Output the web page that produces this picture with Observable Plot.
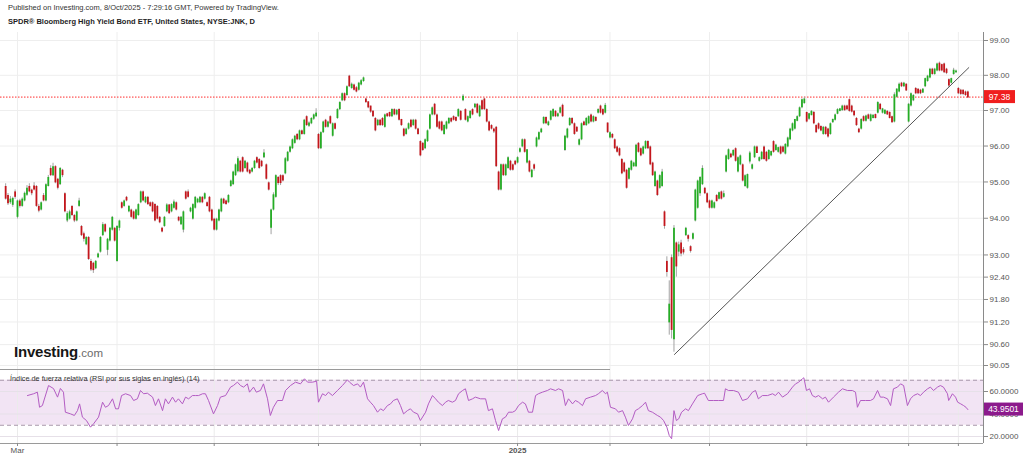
<!DOCTYPE html>
<html><head><meta charset="utf-8">
<script src="https://cdn.jsdelivr.net/npm/d3@7"></script>
<script src="https://cdn.jsdelivr.net/npm/@observablehq/plot@0.6"></script>
<style>
html,body{margin:0;padding:0;background:#fff;overflow:hidden;}
body{font-family:"Liberation Sans",Arial,Helvetica,sans-serif;}
#wrap{position:relative;width:1024px;height:459px;overflow:hidden;}
#pub{position:absolute;left:8px;top:3px;font-size:7.5px;color:#333;white-space:nowrap;}
#ttl{position:absolute;left:8px;top:17px;font-size:7.5px;font-weight:bold;color:#1e1e1e;white-space:nowrap;}
#price{position:absolute;left:0;top:32px;}
#rsi{position:absolute;left:0;top:372px;}
#logo{position:absolute;left:14px;top:343px;font-size:15px;font-weight:bold;color:#161616;letter-spacing:-0.2px;white-space:nowrap;}
#logo span{font-size:11.5px;font-weight:normal;color:#6a6a6a;letter-spacing:0;}
#sep{position:absolute;left:0;top:369px;width:610px;height:1px;background:#9a9a9a;}
#rsiLbl{position:absolute;left:10px;top:374px;font-size:7.3px;color:#333;white-space:nowrap;}
</style></head>
<body><div id="wrap">
<div id="pub">Published on Investing.com, 8/Oct/2025 - 7:29:16 GMT, Powered by TradingView.</div>
<div id="ttl">SPDR® Bloomberg High Yield Bond ETF, United States, NYSE:JNK, D</div>
<div id="price"></div>
<div id="rsi"></div>
<div id="sep"></div>
<div id="logo">Investing<span>.com</span></div>
<div id="rsiLbl">Índice de fuerza relativa (RSI por sus siglas en inglés) (14)</div>
</div>
<script>
const open = [
94.85,94.6,94.45,94.38,94.7,94.05,94.45,94.35,94.5,94.66,
94.85,94.75,94.86,94.85,94.3,94.25,94.6,94.5,94.9,95.35,
95.2,95.4,95.05,94.95,95.3,94.65,93.95,94.0,94.3,94.05,
93.95,94.35,93.75,93.55,93.3,93.45,92.8,92.75,92.65,92.95,
93.1,93.55,93.8,93.15,93.4,93.7,93.7,92.85,93.75,94.4,
94.35,94.55,94.2,94.2,94.15,94.0,94.1,94.45,94.7,94.45,
94.55,94.4,94.4,94.35,94.3,94.0,93.7,93.8,94.2,94.34,
94.2,94.3,94.4,94.0,93.85,93.7,94.7,94.7,94.2,94.0,
94.3,94.45,94.45,94.55,94.55,94.4,94.55,94.2,93.95,93.7,
93.95,94.2,94.5,94.45,94.45,94.9,94.95,95.2,95.31,95.55,
95.65,95.4,95.5,95.3,95.3,95.4,95.65,95.6,95.55,95.7,
95.45,94.95,93.75,94.25,94.6,95.1,95.15,95.15,95.25,95.6,
95.85,95.95,96.1,96.3,96.2,96.4,96.35,96.8,96.58,96.65,
96.78,96.85,96.3,95.95,96.4,96.7,96.55,96.8,96.3,96.6,
96.8,97.05,97.3,97.45,97.45,97.95,97.65,97.7,97.62,97.6,
97.75,97.85,97.3,97.22,97.1,96.95,96.75,96.6,96.7,96.75,
96.55,96.88,96.92,96.85,97.0,96.9,97.0,96.72,96.45,96.35,
96.5,96.7,96.6,96.7,96.45,96.1,96.05,95.95,96.15,96.5,
96.9,97.15,96.85,96.65,96.65,96.35,96.5,96.65,96.75,96.8,
96.78,96.85,96.95,97.3,97.0,96.7,96.8,97.0,97.1,97.15,
96.85,97.25,97.3,97.0,96.65,96.55,96.45,96.5,95.25,94.8,
95.45,95.2,95.4,95.55,95.45,95.55,95.55,95.85,96.0,96.15,
95.55,95.55,95.15,95.45,96.0,96.2,96.4,96.65,96.78,96.6,
96.75,96.85,96.95,96.85,96.95,97.12,95.9,96.25,96.6,96.75,
96.6,96.5,96.05,96.2,96.65,96.6,96.65,96.85,96.7,96.78,
96.95,97.1,97.0,96.95,96.62,96.25,96.3,96.15,95.95,95.9,
95.6,95.5,95.3,95.1,95.35,95.45,95.45,96.05,95.9,95.8,
95.95,96.1,95.95,95.5,94.9,95.0,94.85,94.9,94.15,92.8,
91.2,92.9,90.75,93.3,93.1,93.3,93.12,93.55,93.5,93.2,
93.45,93.95,94.3,94.7,94.95,94.8,94.65,94.45,94.3,94.3,
94.6,94.55,94.7,94.6,95.3,95.65,95.75,95.75,95.9,95.3,
95.5,95.45,94.9,94.85,95.58,95.38,95.7,95.95,95.6,95.65,
95.95,95.8,95.65,95.75,96.1,95.9,95.85,95.95,95.95,95.8,
96.0,96.2,96.45,96.5,96.72,96.85,97.1,97.22,96.92,96.78,
96.88,96.92,96.55,96.6,96.52,96.35,96.5,96.45,96.35,96.68,
96.75,96.92,97.0,97.02,97.1,97.1,97.28,97.1,96.95,96.75,
96.45,96.5,96.8,96.72,96.85,96.72,96.8,96.86,96.95,97.15,
96.95,96.92,96.95,96.92,96.8,96.7,97.4,97.55,97.75,97.7,
97.72,96.7,97.15,97.3,97.6,97.58,97.55,97.52,97.7,97.85,
97.95,98.15,98.05,98.15,98.32,98.28,98.3,98.15,97.85,97.8,
98.05,98.1,97.6,97.55,97.55,97.5,97.5];
const high = [
94.95,94.68,94.6,94.58,94.78,94.5,94.52,94.56,94.72,94.9,
94.95,94.8,94.98,94.9,94.38,94.45,94.68,94.95,95.18,95.45,
95.52,95.45,95.1,95.4,95.35,94.7,94.18,94.22,94.35,94.1,
94.2,94.55,93.8,93.62,93.5,93.5,92.88,92.8,92.85,93.05,
93.5,93.88,93.85,93.45,93.75,94.05,93.75,93.8,93.95,94.45,
94.5,94.6,94.35,94.25,94.2,94.25,94.4,94.75,94.75,94.6,
94.6,94.45,94.45,94.4,94.35,94.05,93.75,94.05,94.4,94.38,
94.4,94.5,94.45,94.05,94.05,94.2,94.75,94.78,94.3,94.4,
94.6,94.55,94.6,94.6,94.7,94.45,94.6,94.25,94.0,94.0,
94.25,94.55,94.55,94.5,94.65,95.05,95.3,95.5,95.7,95.6,
95.7,95.6,95.55,95.35,95.4,95.6,95.7,95.65,95.6,95.9,
95.5,95.0,94.25,94.7,95.2,95.15,95.2,95.2,95.68,95.85,
96.0,96.2,96.3,96.35,96.45,96.45,96.75,96.85,96.68,96.8,
96.9,97.05,96.35,96.4,96.7,96.75,96.7,96.85,96.65,96.65,
97.05,97.25,97.5,97.5,97.7,98.0,97.78,97.75,97.68,97.8,
97.88,97.95,97.35,97.25,97.12,97.0,96.8,96.75,96.75,96.8,
96.9,96.92,96.95,97.05,97.05,97.03,97.05,96.75,96.5,96.5,
96.65,96.75,96.75,96.75,96.5,96.15,96.1,96.2,96.45,96.9,
97.1,97.2,96.9,96.7,96.7,96.6,96.7,96.8,96.8,96.85,
96.82,97.05,97.0,97.45,97.05,96.85,97.0,97.05,97.2,97.2,
97.15,97.3,97.35,97.05,96.7,96.6,96.5,96.55,95.3,95.5,
95.5,95.5,95.7,95.6,95.5,95.6,95.7,95.95,96.2,96.2,
95.9,95.6,95.35,95.5,96.25,96.4,96.5,96.82,96.82,96.7,
97.0,97.05,97.0,96.93,97.1,97.18,96.3,96.5,96.8,96.8,
96.65,96.55,96.2,96.65,96.7,96.8,96.85,96.9,96.85,96.82,
97.05,97.15,97.05,97.2,96.65,96.4,96.35,96.2,96.0,95.95,
95.65,95.55,95.35,95.4,95.6,95.55,96.05,96.1,95.95,96.0,
96.15,96.15,96.0,95.55,95.3,95.05,95.2,95.35,94.2,92.95,
92.3,93.0,93.8,93.35,93.35,93.4,93.2,93.75,93.55,93.25,
93.6,94.8,95.05,95.15,95.45,94.85,94.7,94.5,94.5,94.45,
94.65,94.72,94.75,94.75,95.75,95.92,95.8,95.9,95.95,95.7,
95.75,95.5,95.2,95.22,95.85,95.5,96.0,96.0,95.7,95.85,
96.0,95.85,95.9,95.86,96.15,96.05,95.97,96.0,96.0,96.07,
96.25,96.5,96.65,96.75,96.85,97.1,97.33,97.38,96.95,96.92,
97.0,96.97,96.6,96.65,96.57,96.55,96.55,96.5,96.65,96.76,
96.9,97.05,97.06,97.15,97.15,97.15,97.33,97.15,97.0,96.8,
96.5,96.77,96.85,96.87,96.9,96.9,96.88,96.9,97.25,97.2,
97.06,97.02,97.0,96.96,96.84,97.5,97.62,97.78,97.8,97.8,
97.76,97.2,97.5,97.45,97.65,97.62,97.6,97.62,97.92,98.0,
98.2,98.2,98.2,98.35,98.38,98.32,98.35,98.2,97.9,97.92,
98.2,98.15,97.65,97.6,97.58,97.55,97.55];
const low = [
94.5,94.35,94.38,94.3,94.52,93.98,94.28,94.3,94.45,94.6,
94.7,94.62,94.75,94.3,94.15,94.2,94.45,94.45,94.86,95.15,
95.15,94.95,94.78,94.9,95.12,94.15,93.88,93.95,94.05,93.88,
93.9,94.3,93.5,93.35,93.25,92.85,92.55,92.5,92.6,92.9,
93.05,93.5,93.6,92.98,93.35,93.65,93.35,92.8,93.65,94.25,
94.3,94.45,94.15,94.0,93.95,93.95,94.05,94.4,94.45,94.4,
94.35,94.3,94.15,93.9,93.95,93.85,93.6,93.75,94.15,94.1,
94.15,94.25,94.2,93.9,93.8,93.6,94.5,94.55,94.15,93.95,
94.25,94.4,94.4,94.4,94.5,94.3,94.15,93.9,93.65,93.65,
93.9,94.15,94.38,94.35,94.4,94.85,94.9,95.15,95.25,95.25,
95.25,95.35,95.25,95.2,95.25,95.35,95.5,95.35,95.4,95.65,
95.05,94.75,93.55,94.2,94.55,94.9,94.9,95.0,95.2,95.55,
95.8,95.9,96.05,96.15,96.15,96.3,96.3,96.55,96.52,96.6,
96.72,96.8,95.9,95.9,96.35,96.5,96.5,96.6,96.25,96.45,
96.75,97.0,97.25,97.25,97.4,97.65,97.6,97.55,97.5,97.55,
97.7,97.8,97.2,97.05,96.92,96.8,96.4,96.55,96.55,96.55,
96.5,96.8,96.8,96.8,96.85,96.85,96.7,96.55,96.25,96.3,
96.45,96.5,96.55,96.45,96.3,95.7,95.85,95.9,96.1,96.45,
96.85,96.85,96.5,96.45,96.4,96.3,96.45,96.6,96.65,96.7,
96.68,96.8,96.7,97.25,96.7,96.65,96.75,96.85,97.05,96.9,
96.8,97.0,97.0,96.65,96.4,96.45,96.35,95.4,94.75,94.75,
95.15,95.15,95.35,95.3,95.3,95.45,95.5,95.8,95.95,95.8,
95.5,95.25,95.1,95.3,95.95,96.15,96.35,96.6,96.6,96.55,
96.7,96.8,96.8,96.8,96.9,96.8,95.85,96.2,96.55,96.6,
96.3,96.38,96.0,96.15,96.55,96.55,96.6,96.65,96.65,96.68,
96.9,96.9,96.85,96.9,96.35,96.2,96.2,95.9,95.8,95.7,
95.2,95.25,94.8,95.05,95.3,95.4,95.4,95.8,95.7,95.75,
95.9,95.9,95.45,95.15,94.85,94.6,94.8,94.85,93.7,92.4,
90.85,90.75,90.4,92.4,92.95,92.95,93.0,93.5,93.35,93.05,
93.4,93.9,94.25,94.6,94.9,94.65,94.4,94.25,94.25,94.25,
94.45,94.5,94.5,94.55,95.25,95.6,95.65,95.7,95.55,95.25,
95.45,95.0,94.85,94.8,95.5,95.33,95.65,95.8,95.55,95.6,
95.6,95.55,95.6,95.7,95.8,95.85,95.8,95.75,95.8,95.75,
95.95,96.15,96.4,96.45,96.68,96.8,97.05,97.18,96.65,96.72,
96.85,96.6,96.35,96.45,96.4,96.3,96.3,96.22,96.3,96.64,
96.7,96.88,96.96,96.98,96.98,97.0,96.95,96.93,96.82,96.55,
96.35,96.45,96.67,96.67,96.74,96.67,96.76,96.76,96.9,97.0,
96.9,96.88,96.86,96.76,96.64,96.65,97.35,97.5,97.65,97.65,
97.54,96.65,97.1,97.25,97.45,97.45,97.45,97.48,97.65,97.8,
97.9,98.0,98.0,98.1,98.1,98.1,98.05,98.02,97.65,97.75,
98.0,98.05,97.45,97.42,97.42,97.4,97.35];
const close = [
94.55,94.42,94.5,94.52,94.6,94.45,94.35,94.5,94.66,94.8,
94.75,94.7,94.8,94.35,94.22,94.4,94.5,94.9,95.1,95.2,
95.4,95.0,94.85,95.35,95.2,94.2,94.1,94.15,94.1,93.95,
94.15,94.45,93.55,93.45,93.45,92.9,92.62,92.6,92.8,93.0,
93.45,93.8,93.65,93.4,93.7,94.0,93.4,93.75,93.9,94.3,
94.45,94.5,94.3,94.05,94.0,94.2,94.35,94.7,94.5,94.55,
94.4,94.35,94.2,93.95,94.0,93.9,93.65,94.0,94.34,94.15,
94.35,94.42,94.25,93.95,94.0,94.15,94.55,94.6,94.25,94.35,
94.55,94.5,94.55,94.45,94.65,94.35,94.2,93.95,93.7,93.95,
94.2,94.5,94.42,94.4,94.6,95.0,95.25,95.45,95.62,95.3,
95.3,95.55,95.3,95.25,95.35,95.55,95.55,95.4,95.45,95.78,
95.1,94.8,94.2,94.62,95.15,94.98,94.98,95.05,95.62,95.8,
95.95,96.15,96.25,96.2,96.4,96.35,96.7,96.6,96.62,96.75,
96.85,96.9,95.95,96.35,96.65,96.55,96.65,96.65,96.6,96.5,
97.0,97.2,97.45,97.3,97.65,97.7,97.72,97.6,97.55,97.75,
97.82,97.9,97.25,97.1,96.98,96.85,96.45,96.7,96.6,96.6,
96.85,96.85,96.85,97.0,96.9,96.98,96.75,96.6,96.3,96.45,
96.6,96.55,96.7,96.5,96.35,95.75,95.9,96.15,96.4,96.85,
97.05,96.9,96.55,96.5,96.45,96.55,96.65,96.75,96.7,96.75,
96.72,97.0,96.75,97.38,96.75,96.8,96.95,96.9,97.15,96.95,
97.1,97.05,97.05,96.7,96.45,96.5,96.42,95.45,94.8,95.45,
95.2,95.45,95.65,95.35,95.35,95.5,95.65,95.9,96.15,95.85,
95.87,95.3,95.3,95.38,96.2,96.35,96.45,96.78,96.65,96.65,
96.95,97.0,96.85,96.88,97.05,96.85,96.25,96.45,96.75,96.65,
96.35,96.42,96.15,96.6,96.6,96.75,96.8,96.7,96.8,96.72,
97.0,96.95,96.9,97.12,96.4,96.35,96.25,95.95,95.85,95.75,
95.25,95.3,94.85,95.35,95.55,95.5,96.0,95.85,95.75,95.95,
96.1,95.95,95.5,95.2,95.25,94.65,95.15,95.25,93.8,92.55,
91.65,91.0,93.7,92.7,93.25,93.05,93.08,93.7,93.45,93.12,
93.55,94.75,95.0,95.1,95.35,94.7,94.45,94.3,94.45,94.4,
94.48,94.68,94.55,94.65,95.7,95.87,95.7,95.85,95.6,95.65,
95.7,95.05,95.15,95.18,95.78,95.45,95.95,95.82,95.65,95.8,
95.65,95.6,95.85,95.82,95.85,96.0,95.93,95.8,95.85,96.02,
96.2,96.45,96.6,96.72,96.8,97.05,97.28,97.3,96.7,96.88,
96.95,96.65,96.4,96.5,96.45,96.5,96.35,96.28,96.6,96.72,
96.85,97.0,97.02,97.1,97.02,97.05,97.0,96.98,96.88,96.6,
96.4,96.72,96.72,96.82,96.78,96.85,96.84,96.8,97.2,97.05,
97.02,96.98,96.9,96.8,96.68,97.42,97.58,97.72,97.7,97.75,
97.58,97.15,97.45,97.4,97.5,97.5,97.5,97.58,97.88,97.95,
98.15,98.05,98.15,98.3,98.15,98.15,98.1,98.08,97.72,97.88,
98.12,98.1,97.5,97.48,97.48,97.45,97.38];

// RSI (14): [candle index, value]
const rsi = [[9.2,56.4],[11.8,58],[13.4,59.4],[14.3,46],[15.5,47.5],[18.1,65.3],[20.2,62.6],[21.9,55],[23.1,62.7],[24.4,59.4],[25.2,41.6],[27.4,40.1],[29,38.7],[30.3,43],[31.2,49],[32.4,37.2],[34.1,34.2],[35.8,28.3],[37.1,31.3],[39.2,37.2],[40.9,50.5],[42.1,46],[43.4,47.5],[45.1,53.5],[46.4,44.6],[47.6,44.6],[48.9,56.4],[50.6,58],[52.7,56.4],[54,52],[55.6,53.5],[56.9,60.9],[58.2,58],[59.8,58.5],[62,55],[63.2,47.5],[64.5,53.5],[66.2,43],[67.4,53.5],[68.7,49],[70.4,55],[71.7,50.5],[72.9,53.5],[74.6,49],[75.9,55],[77.2,53.5],[78.8,56.4],[80.1,56.4],[81.4,56.4],[83.1,58],[84.3,58],[85.6,52],[87.7,40.1],[89.4,47.5],[90.6,55],[92.8,56.4],[94.9,63.9],[96.1,65.3],[97.8,68.3],[99.1,65.3],[100.4,63.9],[102,66.8],[102.9,59.4],[104.6,63.9],[105.8,59.4],[107.5,60.9],[108.8,66.8],[110.5,53.5],[111.7,38.7],[113,46],[114.7,52],[116.8,52],[118.1,60.9],[120.2,65.3],[122.3,68.3],[124.4,66.8],[126.1,71.3],[127.4,68.3],[129.5,68.3],[131.2,69.2],[132,50.5],[133.7,58],[135,56.4],[136.2,59.4],[137.9,56.4],[140,60.9],[142.1,65.3],[144.2,70.4],[145.1,68.3],[146.8,65.3],[148.5,66.8],[149.7,63.9],[151,68.3],[152.7,53.5],[153.9,50.5],[155.2,47.5],[156.9,41.6],[158.2,44.6],[159.4,43],[161.1,47.5],[162.4,49],[163.6,52],[165.3,53.5],[166.6,47.5],[167.9,40.1],[169.5,43],[170.8,44.6],[172.1,41.6],[173.8,40.1],[175,34.2],[177.2,41.6],[178.4,49],[180.1,56.4],[181.4,53.5],[182.6,50.5],[184.3,47.5],[185.6,50.5],[186.8,52],[188.5,50.5],[189.8,52],[191.1,58],[192.8,60.9],[194,62.4],[195.3,52],[197,53.5],[198.2,55],[200.4,53.5],[202.5,53.5],[203.7,43],[205.4,44.6],[206.7,34.2],[208,25.3],[209.6,35.7],[210.9,37.2],[212.2,41.6],[213.9,41.6],[215.1,43],[216.4,47.5],[218.1,50.5],[219.3,49],[220.6,41.6],[222.3,41.6],[223.6,56.4],[224.8,58],[226.5,59.4],[228.6,60.9],[229.9,62.4],[232,60.9],[233.3,62.4],[235,60.9],[236.2,47.5],[237.5,53.5],[239.2,49],[240.4,52],[241.7,50.5],[243.4,47.5],[244.7,53.5],[246.8,55],[248.9,56.4],[250.1,58],[251.8,60.9],[253.1,58],[253.9,59.4],[255.2,46],[257.3,44.6],[258.6,41.6],[260.3,43],[261.5,37.2],[262.8,29.8],[264.5,35.7],[265.7,43],[267,44.6],[268.7,47.5],[270,50.5],[271.2,43],[272.9,41.6],[275,38.7],[276.3,37.2],[277.6,34.2],[279,28.3],[280,20.9],[281,18],[282,43],[283,34.2],[284,35.7],[285.2,41.6],[286.9,44.6],[288.1,43],[289.8,49],[292,56.4],[294,58],[294.9,58.5],[296.5,52],[298.7,52],[300.8,52],[302.9,52],[303.7,62.4],[305,60.9],[307.1,60.9],[309.2,59.4],[310.9,52],[313,53.5],[315.1,59.4],[316.4,60.9],[317.6,53.5],[319.3,56.4],[321.5,56.4],[323.6,58],[324.8,56.4],[326.1,59.4],[327.8,55],[329.9,58],[332,63.9],[333.3,66.8],[334.6,68.3],[336.2,71.3],[336.8,72.2],[337.9,60.9],[339.2,62.4],[340.4,56.4],[341.7,55],[343,56.4],[344.7,53.5],[345.9,55],[347.2,50.5],[349.3,55],[351.4,59.4],[353.1,62.4],[355.2,60.9],[357.3,60.9],[358.6,59.4],[359.4,46],[360.7,52],[362.8,52],[364.9,52],[366.2,53.5],[367.9,60.9],[369.1,55],[370.4,55],[372.1,53.5],[373.4,47.5],[374.6,62.4],[376.3,63.9],[377.6,66.8],[378.9,65.3],[380.5,47.5],[381.8,53.5],[383.1,56.4],[384.8,58],[386,56.4],[387.3,59.4],[389,62.4],[390.2,63.9],[391.5,60.9],[393.2,63.9],[394.4,65.3],[395.7,63.9],[397.4,58],[397.9,52],[399.5,58],[400.8,55],[401.7,50.5],[403,49],[404.2,47.5],[405.2,46],[406,43.95]];

const priceTicks = [99, 98, 97, 96, 95, 94, 93, 92.4, 91.8, 91.2, 90.6, 90.05];
const rsiTicks = [20, 40, 60];
const rsiBands = [30, 70];
const monthTicks = [5, 47, 88, 132, 175, 216, 255, 297, 338, 381, 402];
const monthLabels = {5: "Mar", 216: "2025"};
const trendLine = [[282.2, 90.34], [406.4, 98.22]];
const lastClose = 97.38;
const lastRsi = 43.9501;

// layout
const xDom = [-2.17, 412.6];
const plotRight = 983;
const font = "Liberation Sans, Arial, Helvetica, sans-serif";

const candles = close.map((c, i) => ({i, o: open[i], h: high[i], l: low[i], c}));
const up = candles.filter(d => d.c >= d.o);
const dn = candles.filter(d => d.c < d.o);

const pc = Plot.plot({
  width: 1024, height: 340,
  marginTop: 0, marginBottom: 0, marginLeft: 0, marginRight: 1024 - plotRight,
  style: {background: "transparent", fontFamily: font, fontSize: "8px", color: "#555", overflow: "visible"},
  x: {domain: xDom, range: [0, plotRight], axis: null},
  y: {type: "log", domain: [90.05, 99], range: [333, 8]},
  marks: [
    Plot.ruleX(monthTicks, {stroke: "#eeeeee"}),
    Plot.ruleY(priceTicks, {stroke: "#eeeeee"}),
    Plot.ruleY([lastClose], {stroke: "#ff2b2b", strokeDasharray: "1.5,1.5", strokeWidth: 1}),
    Plot.ruleX(candles, {x: "i", y1: "l", y2: "h", stroke: "#a3a3a3", strokeWidth: 1}),
    Plot.ruleX(up, {x: "i", y1: "o", y2: "c", stroke: "#25ad25", strokeWidth: 1.8, strokeLinecap: "square"}),
    Plot.ruleX(dn, {x: "i", y1: "o", y2: "c", stroke: "#c4161c", strokeWidth: 1.8, strokeLinecap: "square"}),
    Plot.line(trendLine, {x: d => d[0], y: d => d[1], stroke: "#555", strokeWidth: 1}),
    Plot.ruleX([xDom[1]], {stroke: "#8a8a8a"}),
    Plot.axisY(priceTicks, {anchor: "right", tickSize: 4, tickPadding: 2, tickFormat: d => d.toFixed(2), stroke: "#8a8a8a", fill: "#555"})
  ]
});
document.getElementById("price").appendChild(pc);
{
  const yy = pc.scale("y").apply(lastClose);
  const g = d3.select(pc).append("g");
  g.append("rect").attr("x", plotRight + 1).attr("y", yy - 6.5).attr("width", 31).attr("height", 13).attr("fill", "#f01e1e");
  g.append("text").attr("x", plotRight + 16.5).attr("y", yy).attr("dy", "0.35em").attr("text-anchor", "middle")
    .attr("fill", "#fff").attr("font-size", 8.5).attr("font-family", font).text(lastClose.toFixed(2));
}

const rc = Plot.plot({
  width: 1024, height: 87,
  marginTop: 0, marginBottom: 16, marginLeft: 0, marginRight: 1024 - plotRight,
  style: {background: "transparent", fontFamily: font, fontSize: "8px", color: "#555", overflow: "visible"},
  x: {domain: xDom, range: [0, plotRight]},
  y: {domain: [13.78, 76.89]},
  marks: [
    Plot.rect([rsiBands], {x1: xDom[0], x2: xDom[1], y1: d => d[0], y2: d => d[1], fill: "#f2e4f4"}),
    Plot.ruleX(monthTicks, {stroke: "#ebebeb"}),
    Plot.ruleY(rsiTicks, {stroke: "#e6e0e8"}),
    Plot.ruleY(rsiBands, {stroke: "#a896ab", strokeDasharray: "4,3"}),
    Plot.line(rsi, {x: d => d[0], y: d => d[1], stroke: "#b35cc3", strokeWidth: 1}),
    Plot.ruleY([13.78], {stroke: "#9a9a9a"}),
    Plot.ruleX([xDom[1]], {stroke: "#8a8a8a"}),
    Plot.axisY(rsiTicks, {anchor: "right", tickSize: 4, tickPadding: 2, tickFormat: d => d.toFixed(4), stroke: "#8a8a8a", fill: "#555"}),
    Plot.axisX(monthTicks, {anchor: "bottom", tickSize: 3, tickPadding: 1, tickFormat: d => monthLabels[d] || "", stroke: "#8a8a8a", fill: "#555"})
  ]
});
document.getElementById("rsi").appendChild(rc);
d3.select(rc).selectAll("text").filter(function() { return this.textContent === "2025"; }).attr("font-weight", "bold");
{
  const yy = rc.scale("y").apply(lastRsi);
  const g = d3.select(rc).append("g");
  g.append("rect").attr("x", plotRight + 1).attr("y", yy - 6.5).attr("width", 39).attr("height", 13).attr("fill", "#8c1a8c");
  g.append("text").attr("x", plotRight + 20.5).attr("y", yy).attr("dy", "0.35em").attr("text-anchor", "middle")
    .attr("fill", "#fff").attr("font-size", 8.5).attr("font-family", font).text(lastRsi.toFixed(4));
}
</script>
</body></html>
